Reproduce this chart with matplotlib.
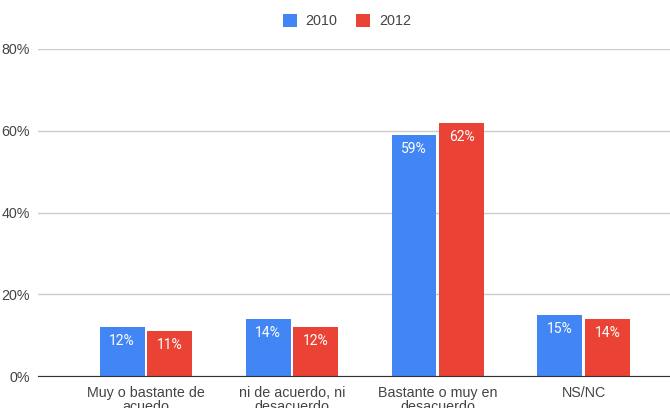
import matplotlib
matplotlib.use("Agg")
import matplotlib.pyplot as plt
import numpy as np

categories = ["Muy o bastante de\nacuedo", "ni de acuerdo, ni\ndesacuerdo",
              "Bastante o muy en\ndesacuerdo", "NS/NC"]
series_names = ["2010", "2012"]
values_2010 = [12, 14, 59, 15]
values_2012 = [11, 12, 62, 14]
yticks = [0, 20, 40, 60, 80]
colors = ["#4285F4", "#EA4335"]

plt.rcParams['font.family'] = ['Liberation Sans', 'DejaVu Sans']

fig = plt.figure(figsize=(6.7, 4.08), dpi=100)
ax = fig.add_axes([38/670, 32/408, 1 - 38/670, (376-49)/408])

x = np.arange(len(categories))
w = 0.308
off = 0.164
handles = []
for i, (vals, name, c) in enumerate(zip([values_2010, values_2012], series_names, colors)):
    pos = x + (-off if i == 0 else off)
    bars = ax.bar(pos, vals, width=w, color=c, label=name, zorder=3)
    handles.append(bars)
    for xp, v in zip(pos, vals):
        ax.annotate(f"{v}%", (xp, v), xytext=(0, -14), textcoords='offset pixels',
                    ha='center', va='center', color='white', fontsize=10,
                    family=['Roboto', 'DejaVu Sans'], zorder=4)

ax.set_xlim(-0.74, 3.59)
ax.set_ylim(0, 80)
ax.set_yticks(yticks)
ax.set_yticklabels([f"{t}%" for t in yticks])
ax.set_xticks(x)
ax.set_xticklabels(categories)
ax.grid(axis='y', color='#cccccc', linewidth=1, zorder=0)
for s in ['top', 'right', 'left']:
    ax.spines[s].set_visible(False)
ax.spines['bottom'].set_color('#333333')
ax.spines['bottom'].set_zorder(5)
ax.tick_params(axis='both', length=0, labelsize=10.3, colors='#444444')
ax.tick_params(axis='y', pad=6)
ax.tick_params(axis='x', pad=7)
for lbl in ax.get_xticklabels():
    lbl.set_linespacing(1.0)

fig.legend(handles=handles, labels=series_names, loc='center',
           bbox_to_anchor=(347/670, 1 - 21/408), ncol=2, frameon=False,
           fontsize=10.4, handlelength=0.97, handleheight=0.97, handletextpad=0.62,
           columnspacing=1.31, labelcolor='#444444')

fig.savefig("out.png", dpi=100)
